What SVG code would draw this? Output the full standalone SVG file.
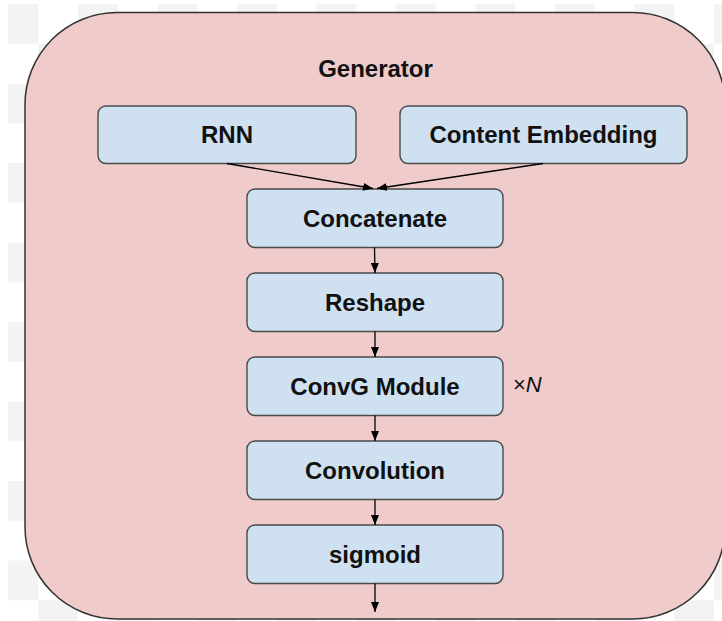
<svg xmlns="http://www.w3.org/2000/svg" width="722" height="621" viewBox="0 0 722 621">
  <defs>
    <pattern id="checker" patternUnits="userSpaceOnUse" x="-1.5" y="4" width="79.5" height="79.5">
      <rect width="79.5" height="79.5" fill="#ffffff"/>
      <rect x="0" y="0" width="39.75" height="39.75" fill="#f3f3f3"/>
      <rect x="39.75" y="39.75" width="39.75" height="39.75" fill="#f3f3f3"/>
    </pattern>
    <marker id="arrow" viewBox="0 0 10 8" refX="10" refY="4" markerWidth="10" markerHeight="8" markerUnits="userSpaceOnUse" orient="auto">
      <path d="M0,0 L10,4 L0,8 Z" fill="#000000"/>
    </marker>
    <style>
      .frame { fill: #f0cbcb; stroke: #333333; stroke-width: 1.5; }
      .box { fill: #cfe0f1; stroke: #4a4a4a; stroke-width: 1.4; }
      .label { font-family: "Liberation Sans", Arial, sans-serif; font-weight: bold; font-size: 24px; fill: #111111; text-anchor: middle; }
      .note { font-family: "Liberation Sans", Arial, sans-serif; font-size: 22px; fill: #111111; }
      .edge { stroke: #000000; stroke-width: 1.3; fill: none; marker-end: url(#arrow); }
    </style>
  </defs>

  <!-- backdrop -->
  <rect width="722" height="621" fill="#ffffff"/>
  <rect x="8" y="4" width="714" height="617" fill="url(#checker)"/>

  <!-- generator container -->
  <g id="generator">
    <rect class="frame" x="25" y="12.5" width="700" height="606.5" rx="92" ry="92"/>
    <text class="label" x="375.5" y="77">Generator</text>
  </g>

  <g id="rnn">
    <rect class="box" x="98" y="106" width="258" height="57.5" rx="8"/>
    <text class="label" x="227" y="143">RNN</text>
  </g>

  <g id="content-embedding">
    <rect class="box" x="400" y="106" width="287" height="57.5" rx="8"/>
    <text class="label" x="543.5" y="143">Content Embedding</text>
  </g>

  <g id="concatenate">
    <rect class="box" x="247" y="189" width="256" height="58.5" rx="8"/>
    <text class="label" x="375" y="226.5">Concatenate</text>
  </g>

  <g id="reshape">
    <rect class="box" x="247" y="273" width="256" height="58.5" rx="8"/>
    <text class="label" x="375" y="310.5">Reshape</text>
  </g>

  <g id="convg-module">
    <rect class="box" x="247" y="357" width="256" height="58.5" rx="8"/>
    <text class="label" x="375" y="394.5">ConvG Module</text>
    <text class="note" x="513" y="392">×<tspan font-style="italic">N</tspan></text>
  </g>

  <g id="convolution">
    <rect class="box" x="247" y="441" width="256" height="58.5" rx="8"/>
    <text class="label" x="375" y="478.5">Convolution</text>
  </g>

  <g id="sigmoid">
    <rect class="box" x="247" y="525" width="256" height="58.5" rx="8"/>
    <text class="label" x="375" y="562.5">sigmoid</text>
  </g>

  <!-- connectors -->
  <g id="connectors">
    <line class="edge" x1="227" y1="163.5" x2="373" y2="188.5"/>
    <line class="edge" x1="543" y1="163.5" x2="377" y2="188.5"/>
    <line class="edge" x1="374.5" y1="247.5" x2="375" y2="273"/>
    <line class="edge" x1="375" y1="331.5" x2="375" y2="357"/>
    <line class="edge" x1="375" y1="415.5" x2="375" y2="441"/>
    <line class="edge" x1="375" y1="499.5" x2="375" y2="525"/>
    <line class="edge" x1="375" y1="583.5" x2="375" y2="612"/>
  </g>
</svg>
